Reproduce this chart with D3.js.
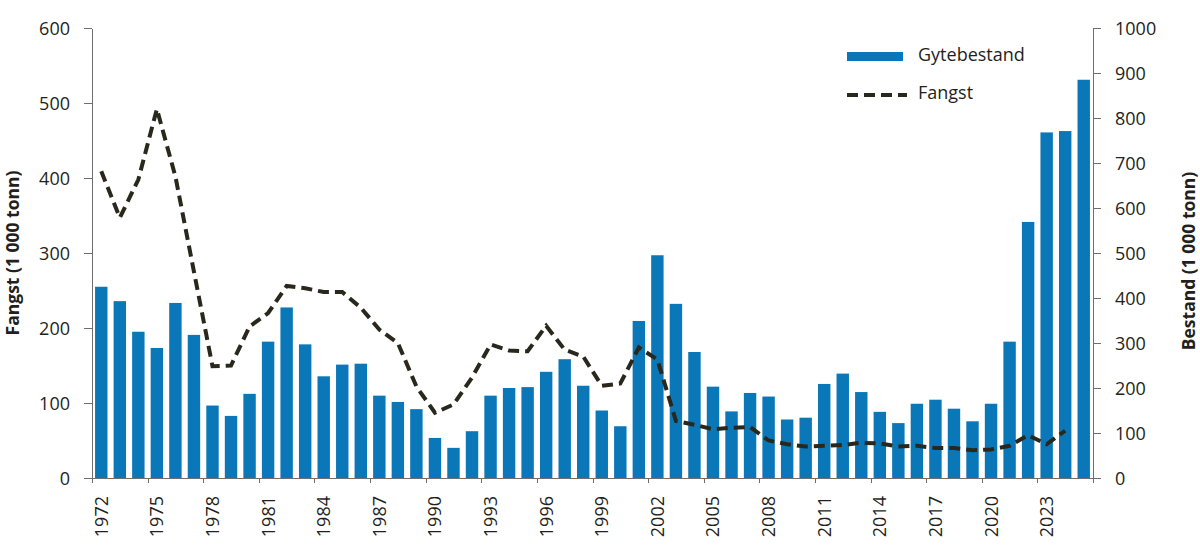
<!DOCTYPE html>
<html>
<head>
<meta charset="utf-8">
<script src="https://cdn.jsdelivr.net/npm/d3@7"></script>
<style>
  body { margin: 0; background: #fff; }
  svg text { font-family: "Open Sans", "Noto Sans", sans-serif; fill: #231f20; }
  .axis path, .axis line { stroke: #6d6e71; stroke-width: 1; shape-rendering: crispEdges; }
  .tick_text { font-size: 18px; }
  .axis_title { font-size: 17.5px; font-weight: bold; }
</style>
</head>
<body>
<svg id="chart" width="1200" height="555"></svg>
<script>
// data
var years = d3.range(1972, 2026);
var bestand = [425, 393, 325, 289, 389, 318, 161, 138, 187, 303,
               379, 297, 226, 252, 254, 183, 169, 153, 89, 67,
               104, 183, 200, 202, 236, 264, 205, 150, 115, 349,
               495, 387, 280, 203, 148, 189, 181, 130, 134, 209,
               232, 191, 147, 122, 165, 174, 154, 126, 165, 303,
               569, 768, 771, 885];
var fangst_years = d3.range(1972, 2025);
var fangst = [409, 347, 398, 492, 402, 275, 149, 150, 202, 220,
              256, 253, 248, 248, 227, 198, 180, 122, 87, 98,
              134, 178, 170, 169, 203, 171, 162, 123, 126, 174,
              158, 76, 71, 65, 67, 68, 50, 45, 42, 43,
              44, 47, 46, 42, 43, 40, 40, 37, 38, 43,
              57, 45, 63];
var left_ticks = [0, 100, 200, 300, 400, 500, 600];
var right_ticks = [0, 100, 200, 300, 400, 500, 600, 700, 800, 900, 1000];
var x_tick_years = d3.range(1972, 2027, 3);
var x_label_years = d3.range(1972, 2024, 3);

var color1 = "#0a78b8";
var color2 = "#2a281c";

var margin = {top: 28, right: 107, bottom: 77, left: 92};
var w_svg = 1200, h_svg = 555;
var w = w_svg - margin.left - margin.right;
var h = h_svg - margin.top - margin.bottom;

var svg = d3.select("#chart");
var g = svg.append("g")
           .attr("transform", "translate(" + margin.left + "," + margin.top + ")");

var x = d3.scaleBand()
          .domain(years)
          .range([0, w])
          .paddingInner(0.33)
          .paddingOuter(0.165);
// year edges, for the tick marks between bands
var x_edge = d3.scaleLinear()
               .domain([1972, 2026])
               .range([0, w]);
var y_left = d3.scaleLinear().domain([0, 600]).range([h, 0]);
var y_right = d3.scaleLinear().domain([0, 1000]).range([h, 0]);

// bars
g.selectAll(".bar")
 .data(years)
 .enter()
 .append("rect")
 .attr("class", "bar")
 .attr("x", function(d) { return x(d); })
 .attr("width", x.bandwidth())
 .attr("y", function(d, i) { return y_right(bestand[i]); })
 .attr("height", function(d, i) { return h - y_right(bestand[i]); })
 .style("fill", color1);

// catch line
var line = d3.line()
             .x(function(d, i) { return x(fangst_years[i]) + x.bandwidth()/2; })
             .y(function(d) { return y_left(d); });

g.append("path")
 .datum(fangst)
 .attr("d", line)
 .style("fill", "none")
 .style("stroke", color2)
 .style("stroke-width", 4)
 .style("stroke-dasharray", "11,6");

// left axis
var left_axis = g.append("g")
                 .attr("class", "axis")
                 .call(d3.axisLeft(y_left).tickValues(left_ticks).tickFormat(d3.format("d"))
                         .tickSize(8).tickPadding(14).tickSizeOuter(0));
left_axis.selectAll("text").attr("class", "tick_text").attr("dy", "0.36em");

// right axis
var right_axis = g.append("g")
                  .attr("class", "axis")
                  .attr("transform", "translate(" + w + ",0)")
                  .call(d3.axisRight(y_right).tickValues(right_ticks).tickFormat(d3.format("d"))
                          .tickSize(8).tickPadding(14).tickSizeOuter(0));
right_axis.selectAll("text").attr("class", "tick_text").attr("dy", "0.36em");

// bottom axis, ticks at band edges
var bottom_axis = g.append("g")
                   .attr("class", "axis")
                   .attr("transform", "translate(0," + h + ")")
                   .call(d3.axisBottom(x_edge).tickValues(x_tick_years).tickSize(5).tickFormat("").tickSizeOuter(0));

// year labels centred under the bars
g.selectAll(".year_label")
 .data(x_label_years)
 .enter()
 .append("text")
 .attr("class", "tick_text")
 .attr("transform", function(d) {
   return "translate(" + (x(d) + x.bandwidth()/2) + "," + (h + 18) + ") rotate(-90)";
 })
 .attr("text-anchor", "end")
 .attr("dy", "0.36em")
 .text(function(d) { return d; });

// axis titles
svg.append("text")
   .attr("class", "axis_title")
   .attr("transform", "translate(13," + (margin.top + h/2) + ") rotate(-90)")
   .attr("text-anchor", "middle")
   .attr("dy", "0.36em")
   .text("Fangst (1 000 tonn)");

svg.append("text")
   .attr("class", "axis_title")
   .attr("transform", "translate(1189," + (margin.top + h/2 + 8) + ") rotate(-90)")
   .attr("text-anchor", "middle")
   .attr("dy", "0.36em")
   .text("Bestand (1 000 tonn)");

// legend
var legend = svg.append("g").attr("transform", "translate(847,0)");
legend.append("rect")
      .attr("x", 0).attr("y", 52)
      .attr("width", 56).attr("height", 9)
      .style("fill", color1);
legend.append("text")
      .attr("class", "tick_text")
      .attr("x", 71).attr("y", 55)
      .attr("dy", "0.36em")
      .text("Gytebestand");
legend.append("line")
      .attr("x1", 0).attr("x2", 60)
      .attr("y1", 95).attr("y2", 95)
      .style("stroke", color2)
      .style("stroke-width", 4)
      .style("stroke-dasharray", "11,6");
legend.append("text")
      .attr("class", "tick_text")
      .attr("x", 71).attr("y", 93)
      .attr("dy", "0.36em")
      .text("Fangst");
</script>
</body>
</html>
